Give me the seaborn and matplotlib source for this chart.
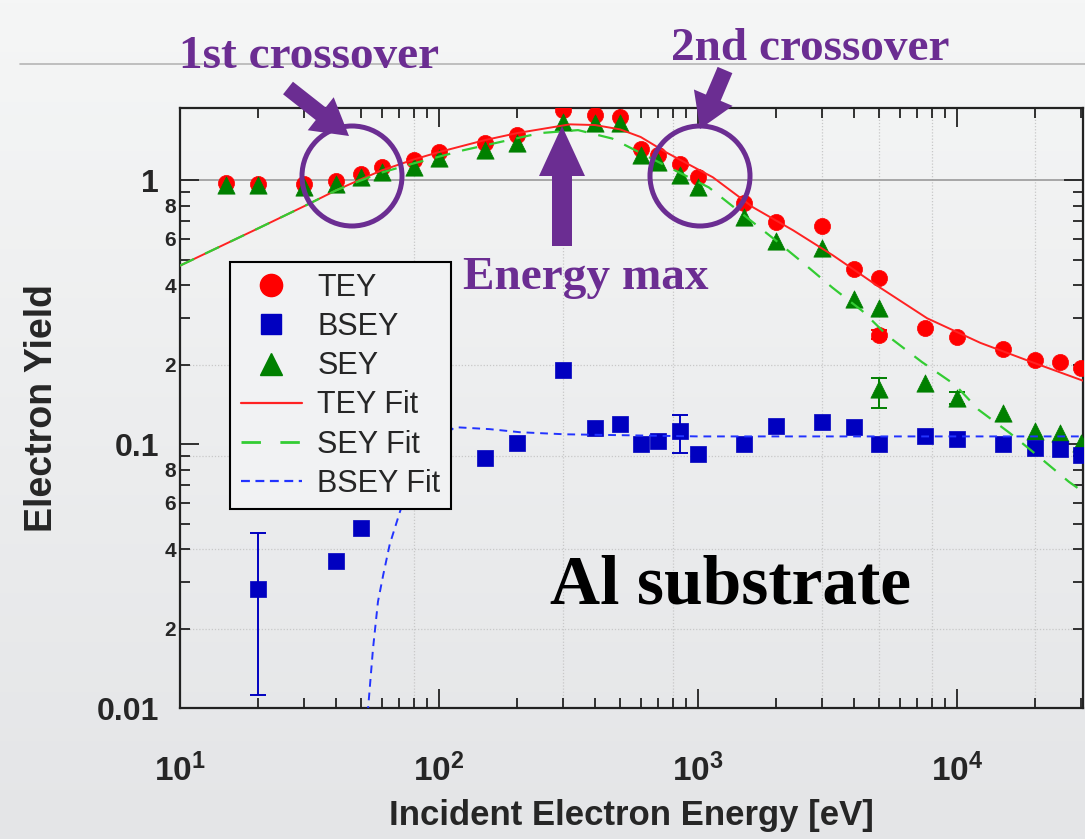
import numpy as np
import matplotlib
matplotlib.use("Agg")
import matplotlib.pyplot as plt
import seaborn as sns
from matplotlib.ticker import LogLocator, FuncFormatter, NullFormatter
from matplotlib.lines import Line2D
from matplotlib.patches import Circle, FancyArrow
from matplotlib.transforms import Affine2D
from matplotlib.colors import LinearSegmentedColormap

tey_e = [15, 20, 30, 40, 50, 60, 80, 100, 150, 200, 300, 400, 500, 600, 700, 850, 1000,
         1500, 2000, 3000, 4000, 5000, 5000, 7500, 10000, 15000, 20000, 25000, 30000]
tey_y = [0.974, 0.965, 0.965, 0.991, 1.054, 1.12, 1.19, 1.278, 1.383, 1.483, 1.846, 1.766, 1.736,
         1.32, 1.245, 1.15, 1.027, 0.818, 0.698, 0.669, 0.463, 0.428, 0.26, 0.276, 0.255,
         0.229, 0.209, 0.204, 0.195]

sey_e = [15, 20, 30, 40, 50, 60, 80, 100, 150, 200, 300, 400, 500, 600, 700, 850, 1000,
         1500, 2000, 3000, 4000, 5000, 5000, 7500, 10000, 15000, 20000, 25000, 30000]
sey_y = [0.957, 0.957, 0.94, 0.965, 1.027, 1.073, 1.12, 1.21, 1.30, 1.38, 1.66, 1.65, 1.65,
         1.245, 1.17, 1.045, 0.94, 0.723, 0.591, 0.556, 0.356, 0.329, 0.162, 0.171, 0.15,
         0.131, 0.112, 0.110, 0.101]

bsey_e = [20, 40, 50, 150, 200, 300, 400, 500, 600, 700, 850, 1000, 1500, 2000, 3000, 4000,
          5000, 7500, 10000, 15000, 20000, 25000, 30000]
bsey_y = [0.0283, 0.0362, 0.0483, 0.0885, 0.101, 0.191, 0.115, 0.119, 0.100, 0.103, 0.112,
          0.0916, 0.100, 0.117, 0.121, 0.116, 0.100, 0.107, 0.105, 0.100, 0.0966, 0.0958, 0.0908]

# error bars: energy, low, high
bsey_err_e = [20, 850]
bsey_err_lo = [0.0112, 0.0925]
bsey_err_hi = [0.0459, 0.129]
sey_err_e = [5000, 10000]
sey_err_lo = [0.137, 0.142]
sey_err_hi = [0.178, 0.158]
tey_err_e = [5000]
tey_err_lo = [0.25]
tey_err_hi = [0.27]

# fit curves (sampled off the figure)
tey_fit_e = [10, 20, 30, 40, 50, 60, 80, 100, 150, 200, 320, 400, 500, 600, 760, 1140,
             1630, 2330, 3320, 5040, 7660, 12300, 19600, 30600]
tey_fit_y = [0.475, 0.657, 0.796, 0.916, 1.01, 1.09, 1.2, 1.28, 1.42, 1.51, 1.63, 1.62, 1.56,
             1.46, 1.27, 1.027, 0.79, 0.646, 0.519, 0.392, 0.30, 0.242, 0.204, 0.174]
sey_fit_e = [10, 20, 30, 40, 50, 60, 80, 124, 245, 344, 466, 745, 1100, 1960, 2520, 3300,
             4300, 5400, 7300, 9800, 12100, 16000, 21000, 27000, 30600]
sey_fit_y = [0.475, 0.657, 0.796, 0.916, 1.0, 1.07, 1.16, 1.30, 1.51, 1.55, 1.44, 1.14, 0.94,
             0.60, 0.49, 0.392, 0.32, 0.257, 0.205, 0.168, 0.135, 0.110, 0.0885, 0.072, 0.066]
bsey_fit_e = [53, 55.6, 58.1, 60.9, 64.5, 70.7, 80, 92, 115, 157, 205, 306, 1000, 30600]
bsey_fit_y = [0.0095, 0.0168, 0.0253, 0.032, 0.0417, 0.0556, 0.078, 0.098, 0.116, 0.114,
              0.111, 0.109, 0.107, 0.107]

grid_x = [80, 300, 800, 3000, 5000, 8000, 20000]
grid_y = [0.02, 0.04, 0.09, 0.2]

RED, BLUE, GREEN = "#ff0000", "#0000c0", "#008000"
RED_FIT, GREEN_FIT, BLUE_FIT = "#ff2222", "#33cc33", "#2233ff"
PURPLE = "#6b2d92"

sns.set_theme(style="ticks")
plt.rcParams["font.family"] = ["Liberation Sans", "DejaVu Sans"]
plt.rcParams["font.weight"] = "bold"
plt.rcParams["mathtext.fontset"] = "custom"
plt.rcParams["mathtext.rm"] = "Liberation Sans"
plt.rcParams["mathtext.it"] = "Liberation Sans:italic"
plt.rcParams["mathtext.bf"] = "Liberation Sans:bold"

W, H = 1085, 839
fig = plt.figure(figsize=(W / 100, H / 100), dpi=100)
pix = Affine2D().scale(1, -1).translate(0, H)  # pixel coords, origin top-left

# slide-like grey gradient background
bg = fig.add_axes([0, 0, 1, 1], zorder=-10)
bg.imshow(np.linspace(0, 1, 256).reshape(-1, 1), aspect="auto", extent=[0, 1, 0, 1],
          cmap=LinearSegmentedColormap.from_list("bg", ["#f5f6f6", "#e4e5e7"]))
bg.axis("off")
fig.add_artist(Line2D([20, W], [64, 64], transform=pix, color="#b5b5b5", lw=1.2))

ax = fig.add_axes([180 / W, (H - 708) / H, 903 / W, 600 / H])
ax.set_facecolor("none")

for gx in grid_x:
    ax.axvline(gx, color="#c8c8c8", ls=(0, (1, 1.5)), lw=0.9, zorder=0)
for gy in grid_y:
    ax.axhline(gy, color="#c8c8c8", ls=(0, (1, 1.5)), lw=0.9, zorder=0)
ax.axhline(1, color="#9a9a9a", lw=1.2, zorder=0)

# measurements
sns.scatterplot(x=tey_e, y=tey_y, marker="o", s=135, color=RED, edgecolor=RED,
                linewidth=0.5, ax=ax, zorder=3, legend=False)
sns.scatterplot(x=sey_e, y=sey_y, marker="^", s=155, color=GREEN, edgecolor=GREEN,
                linewidth=0.5, ax=ax, zorder=4, legend=False)
sns.scatterplot(x=bsey_e, y=bsey_y, marker="s", s=120, color=BLUE, edgecolor=BLUE,
                linewidth=0.5, ax=ax, zorder=4, legend=False)

for ee, lo, hi, col in [(bsey_err_e, bsey_err_lo, bsey_err_hi, BLUE),
                        (sey_err_e, sey_err_lo, sey_err_hi, GREEN),
                        (tey_err_e, tey_err_lo, tey_err_hi, RED)]:
    mid = np.sqrt(np.array(lo) * np.array(hi))
    ax.errorbar(ee, mid, yerr=[mid - np.array(lo), np.array(hi) - mid],
                fmt="none", ecolor=col, elinewidth=1.4, capsize=6, capthick=1.4, zorder=3)

# fits
sns.lineplot(x=tey_fit_e, y=tey_fit_y, color=RED_FIT, lw=1.4, sort=False, estimator=None,
             ax=ax, zorder=5)
sns.lineplot(x=sey_fit_e, y=sey_fit_y, color=GREEN_FIT, lw=1.6, linestyle=(0, (7, 5.5)),
             sort=False, estimator=None, ax=ax, zorder=5)
sns.lineplot(x=bsey_fit_e, y=bsey_fit_y, color=BLUE_FIT, lw=1.4, linestyle=(0, (4, 3)),
             sort=False, estimator=None, ax=ax, zorder=5)

ax.set_xscale("log")
ax.set_yscale("log")
ax.set_xlim(10, 30600)
ax.set_ylim(0.01, 1.88)

ax.xaxis.set_major_locator(LogLocator(base=10, numticks=10))
ax.xaxis.set_minor_locator(LogLocator(base=10, subs=np.arange(2, 10), numticks=20))
ax.xaxis.set_major_formatter(FuncFormatter(
    lambda v, p: r"$\mathbf{10}^{\mathrm{%d}}$" % round(np.log10(v))))
ax.xaxis.set_minor_formatter(NullFormatter())
ax.yaxis.set_major_locator(LogLocator(base=10, numticks=10))
ax.yaxis.set_minor_locator(LogLocator(base=10, subs=np.arange(2, 10), numticks=20))
ax.yaxis.set_major_formatter(FuncFormatter(lambda v, p: "%g" % v))


def minor_label(v, p):
    d = int(round(v / 10 ** np.floor(np.log10(v) + 1e-9)))
    return str(d) if d in (2, 4, 6, 8) else ""


ax.yaxis.set_minor_formatter(FuncFormatter(minor_label))

ax.tick_params(which="both", direction="in", top=True, right=True, color="#222222", width=1.3)
ax.tick_params(which="major", length=14)
ax.tick_params(which="minor", length=7)
ax.tick_params(axis="x", which="major", pad=33, labelsize=24)
ax.tick_params(axis="y", which="major", pad=15, labelsize=23)
ax.tick_params(axis="y", which="minor", pad=3, labelsize=15)
for sp in ax.spines.values():
    sp.set_color("#222222")
    sp.set_linewidth(1.6)

ax.set_xlabel("Incident Electron Energy [eV]", fontsize=25, fontweight="bold")
ax.xaxis.set_label_coords(0.5, -0.152)
ax.set_ylabel("Electron Yield", fontsize=27, fontweight="bold")
ax.yaxis.set_label_coords(-0.133, 0.5)

handles = [
    Line2D([], [], ls="none", marker="o", ms=16, color=RED, label="TEY"),
    Line2D([], [], ls="none", marker="s", ms=14, color=BLUE, label="BSEY"),
    Line2D([], [], ls="none", marker="^", ms=16, color=GREEN, label="SEY"),
    Line2D([], [], color=RED_FIT, lw=1.6, label="TEY Fit"),
    Line2D([], [], color=GREEN_FIT, lw=2.0, ls=(0, (7, 7)), label="SEY Fit"),
    Line2D([], [], color=BLUE_FIT, lw=1.6, ls=(0, (4, 2.5)), label="BSEY Fit"),
]
leg = ax.legend(handles=handles, loc="upper left", bbox_to_anchor=(0.0554, 0.743),
                borderaxespad=0, frameon=True, fancybox=False, handlelength=2.0,
                handletextpad=0.5, labelspacing=0.3, borderpad=0.35,
                prop={"size": 22, "weight": "normal"})
leg.get_frame().set_edgecolor("black")
leg.get_frame().set_linewidth(1.5)
leg.get_frame().set_facecolor("#f1f2f3")
leg.get_frame().set_alpha(1)

# annotations (pixel positions of the slide overlay)
serif = ["Liberation Serif", "DejaVu Serif"]
fig.text(309, 68, "1st crossover", transform=pix, ha="center", va="baseline", fontsize=34,
         fontweight="bold", family=serif, color=PURPLE)
fig.text(810, 60, "2nd crossover", transform=pix, ha="center", va="baseline", fontsize=34,
         fontweight="bold", family=serif, color=PURPLE)
fig.text(586, 289, "Energy max", transform=pix, ha="center", va="baseline", fontsize=34,
         fontweight="bold", family=serif, color=PURPLE)
fig.text(731, 603, "Al substrate", transform=pix, ha="center", va="baseline", fontsize=50,
         fontweight="bold", family=serif, color="black")

for cx in (352, 700):
    fig.add_artist(Circle((cx, 176), 50, transform=pix, fill=False, ec=PURPLE, lw=3.6))

for x0, y0, x1, y1, w, hw, hl in [(288, 88, 349, 136, 16, 42, 36),
                                   (725, 70, 700, 129, 16, 42, 34),
                                   (562, 246, 562, 126, 20, 46, 50)]:
    fig.add_artist(FancyArrow(x0, y0, x1 - x0, y1 - y0, width=w, head_width=hw,
                              head_length=hl, length_includes_head=True, transform=pix,
                              color=PURPLE, lw=0))

fig.savefig("out.png", dpi=100)
